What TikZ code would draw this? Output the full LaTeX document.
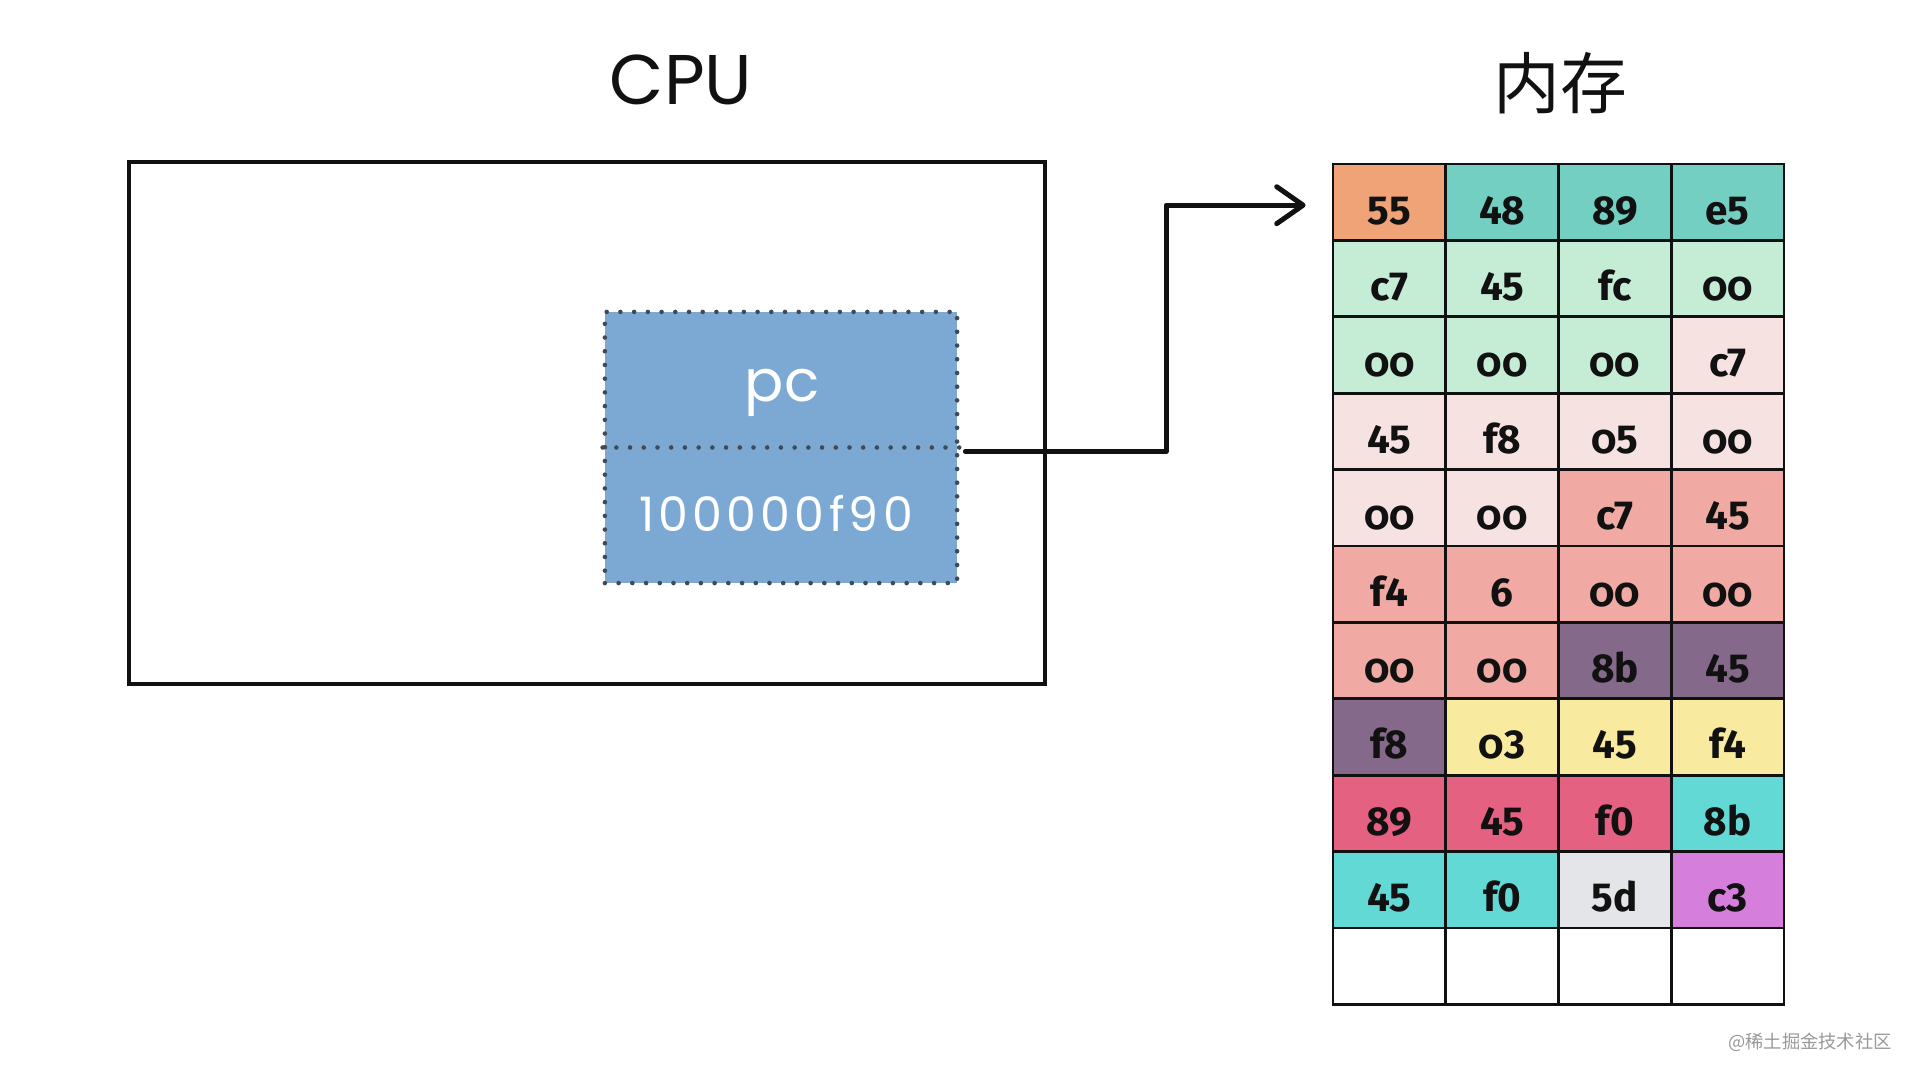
\documentclass[tikz,border=0pt]{standalone}
\usepackage{fontspec}
\usetikzlibrary{arrows.meta,calc}
\newfontfamily\geo{Poppins}
\newfontfamily\geospaced{Poppins}[LetterSpace=9]
\newfontfamily\cellfont{Fira Sans}
\newfontfamily\cellold{Fira Sans}[Numbers=OldStyle]
\newfontfamily\cjk{Noto Sans CJK SC}
\newcommand\oz{{\cellold\bfseries 0}}
\definecolor{corange}{HTML}{EFA376}
\definecolor{cteal}{HTML}{72CFC1}
\definecolor{clgreen}{HTML}{C5EDD6}
\definecolor{clpink}{HTML}{F7E2E2}
\definecolor{csalmon}{HTML}{F0AAA3}
\definecolor{cpurple}{HTML}{85698B}
\definecolor{cyellow}{HTML}{F8EB9F}
\definecolor{crose}{HTML}{E56181}
\definecolor{ccyan}{HTML}{63D9D5}
\definecolor{clgray}{HTML}{E4E5E8}
\definecolor{cviolet}{HTML}{D67EDC}
\definecolor{pcblue}{HTML}{7BA9D4}
\definecolor{dotgray}{HTML}{3F4A55}
\definecolor{ink}{HTML}{111111}
\begin{document}
\begin{tikzpicture}[x=0.01cm,y=-0.01cm,
  title/.style={inner sep=0pt, text=ink},
  cpubox/.style={draw=ink, line width=0.04cm, minimum width=9.16cm, minimum height=5.22cm, inner sep=0pt},
  regbox/.style={fill=pcblue, draw=dotgray, line width=1.3pt, line cap=round, dash pattern=on 0pt off 3.9pt, minimum width=3.52cm, minimum height=2.71cm, inner sep=0pt},
  dotline/.style={draw=dotgray, line width=1.3pt, line cap=round, dash pattern=on 0pt off 3.9pt},
  regtext/.style={inner sep=0pt, text=white, anchor=base},
  cell/.style={draw=ink, line width=0.028cm, minimum width=1.1275cm, minimum height=0.764cm, inner sep=0pt,
     text height=12.5pt, text depth=0pt, font=\cellfont\bfseries\fontsize{11.5}{12}\selectfont, text=ink},
  conn/.style={draw=ink, line width=0.05cm, line cap=round, line join=round,
     -{Straight Barb[length=7.5pt,width=10.5pt,line width=0.05cm,round]}}
]
\useasboundingbox (0,0) rectangle (1919,1080);

% titles
\node[title, anchor=base, font=\geo\fontsize{20}{22}\selectfont] (cputitle) at (681,105) {CPU};
\node[title, font=\cjk\fontsize{19}{20}\selectfont] (memtitle) at (1560,83) {内存};

% CPU box
\node[cpubox] (cpu) at (587,423) {};

% pc register
\node[regbox] (pcbox) at (781,447.5) {};
\draw[dotline] (pcbox.west) -- (pcbox.east);
\node[regtext, font=\geo\fontsize{16.5}{18}\selectfont] (pclabel) at (782,402) {pc};
\node[regtext, font=\geospaced\fontsize{13.5}{15}\selectfont] (pcvalue) at (776,532) {100000f90};

% memory grid
\foreach \r/\c/\t/\col in {
  0/0/55/corange, 0/1/48/cteal, 0/2/89/cteal, 0/3/e5/cteal,
  1/0/c7/clgreen, 1/1/45/clgreen, 1/2/fc/clgreen, 1/3/{\oz\oz}/clgreen,
  2/0/{\oz\oz}/clgreen, 2/1/{\oz\oz}/clgreen, 2/2/{\oz\oz}/clgreen, 2/3/c7/clpink,
  3/0/45/clpink, 3/1/f8/clpink, 3/2/{\oz 5}/clpink, 3/3/{\oz\oz}/clpink,
  4/0/{\oz\oz}/clpink, 4/1/{\oz\oz}/clpink, 4/2/c7/csalmon, 4/3/45/csalmon,
  5/0/f4/csalmon, 5/1/6/csalmon, 5/2/{\oz\oz}/csalmon, 5/3/{\oz\oz}/csalmon,
  6/0/{\oz\oz}/csalmon, 6/1/{\oz\oz}/csalmon, 6/2/8b/cpurple, 6/3/45/cpurple,
  7/0/f8/cpurple, 7/1/{\oz 3}/cyellow, 7/2/45/cyellow, 7/3/f4/cyellow,
  8/0/89/crose, 8/1/45/crose, 8/2/f0/crose, 8/3/8b/ccyan,
  9/0/45/ccyan, 9/1/f0/ccyan, 9/2/5d/clgray, 9/3/c3/cviolet,
  10/0/{}/white, 10/1/{}/white, 10/2/{}/white, 10/3/{}/white}
{
  \node[cell, fill=\col] (c-\r-\c) at ({1389.4+112.75*\c},{202.2+76.4*\r}) {\t};
}

% connector
\coordinate (turn) at (1160,0);
\draw[conn, shorten >=0.26cm] ([xshift=0.06cm,yshift=-0.04cm]pcbox.east) -- ([xshift=0.06cm,yshift=-0.04cm]pcbox.east -| turn) |- ([yshift=-0.03cm]c-0-0.west);

% watermark
\node[inner sep=0pt, text=gray!80, font=\cjk\fontsize{5.2}{6}\selectfont] (wm) at (1810,1042) {@稀土掘金技术社区};
\end{tikzpicture}
\end{document}
